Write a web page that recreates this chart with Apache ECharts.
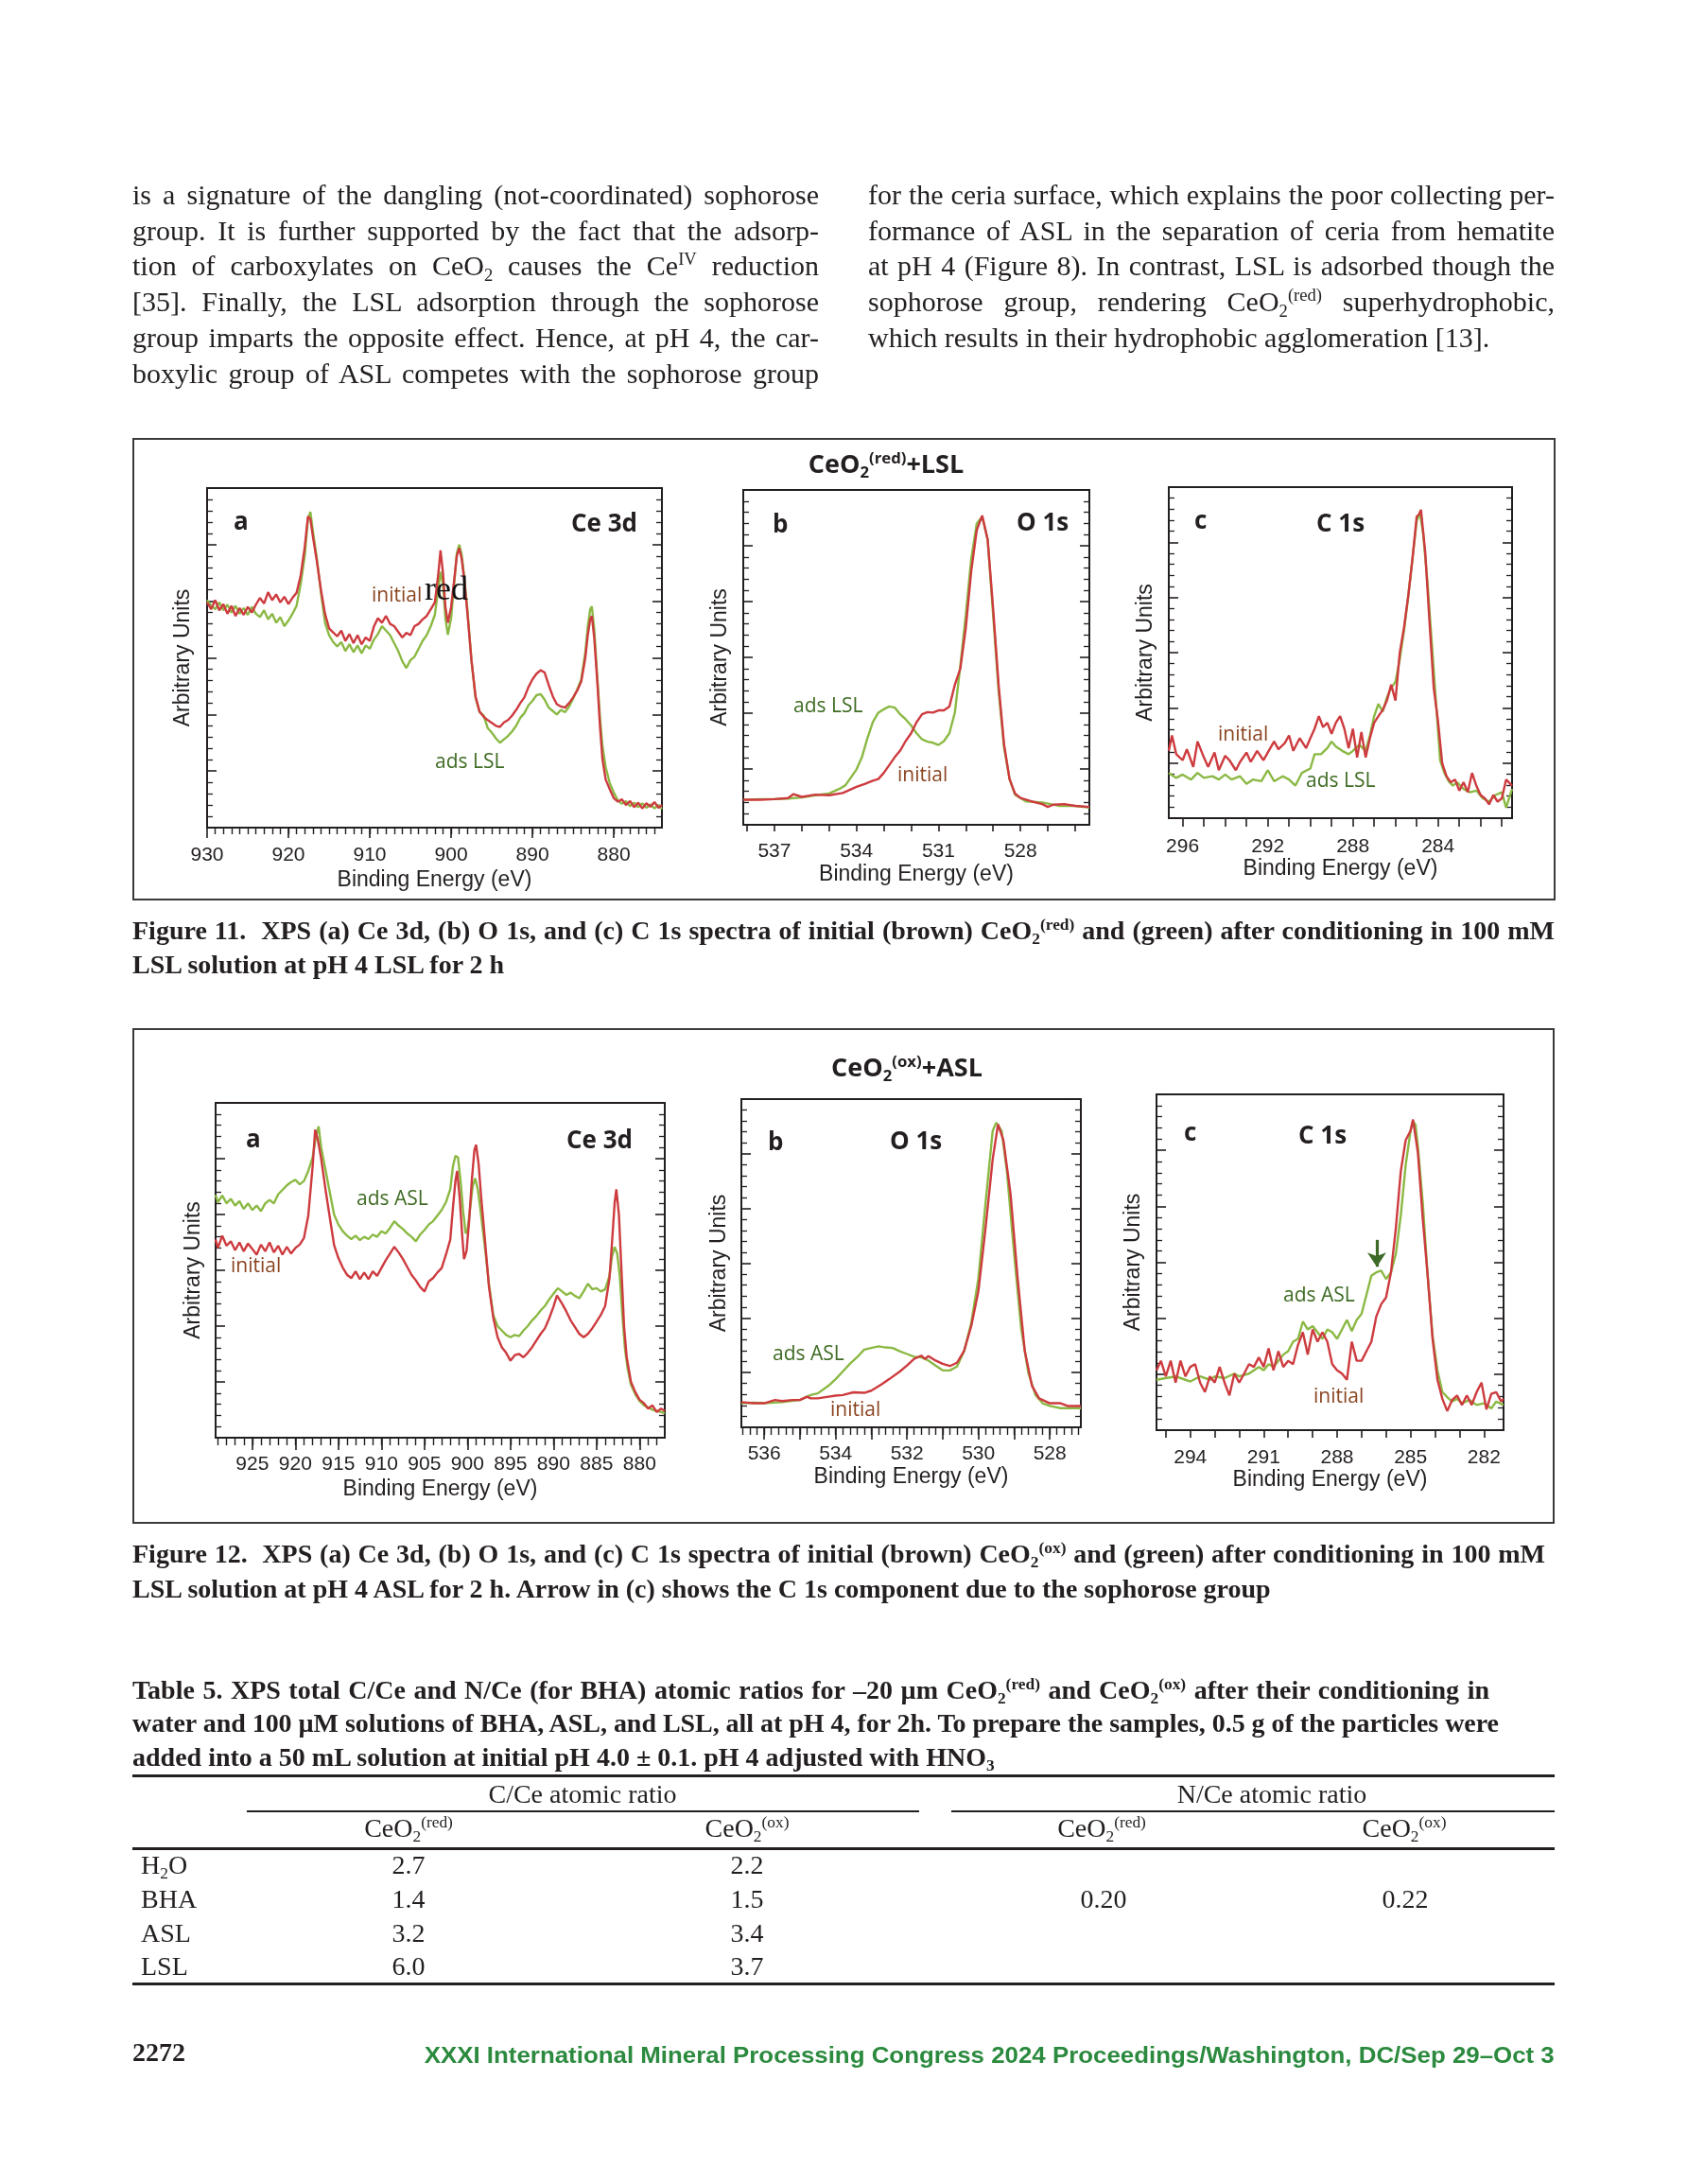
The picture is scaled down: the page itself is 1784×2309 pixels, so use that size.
<!DOCTYPE html>
<html>
<head>
<meta charset="utf-8">
<title>XPS spectra of CeO2 with LSL / ASL</title>
<script src="https://cdn.jsdelivr.net/npm/echarts@6.0.0/dist/echarts.min.js"></script>
<style>
html,body{margin:0;padding:0;background:#fff;}
#page{position:relative;width:1784px;height:2309px;overflow:hidden;background:#fff;color:#231f20;}
#chart{position:absolute;left:0;top:0;width:1784px;height:2309px;z-index:1;}
.abs{position:absolute;white-space:nowrap;z-index:2;}
.body{font-family:"Liberation Serif",serif;font-size:30px;line-height:30px;}
.jl{text-align:justify;text-align-last:justify;}
.cap{font-family:"Liberation Serif",serif;font-weight:bold;font-size:28px;line-height:28px;}
.box{position:absolute;border:2px solid #3a3a3a;z-index:0;box-sizing:border-box;}
.ftitle{font-family:"Open Sans",sans-serif;font-weight:bold;font-size:27px;line-height:27px;transform:translateX(-50%);}
.plab{font-family:"Open Sans",sans-serif;font-weight:bold;font-size:26px;line-height:26px;}
.ann{font-family:"Open Sans",sans-serif;font-size:21px;line-height:21px;}
.brown{color:#8a4420;}
.dgreen{color:#3e6b23;}
.sup{font-size:0.62em;position:relative;top:-0.6em;}
.sub{font-size:0.62em;position:relative;top:0.3em;}
.rule{position:absolute;background:#231f20;z-index:2;}
.tb{font-family:"Liberation Serif",serif;font-size:28px;line-height:28px;}
.ctr{transform:translateX(-50%);}
.foot{font-family:"Liberation Sans",Arial,sans-serif;font-weight:bold;font-size:24px;line-height:24px;color:#2b8a3e;transform-origin:right center;}
</style>
</head>
<body>
<div id="page">
<div id="chart"></div>

<!-- body text -->
<div class="abs body jl" style="left:140px;top:191px;width:726px;">is a signature of the dangling (not-coordinated) sophorose</div>
<div class="abs body jl" style="left:140px;top:229px;width:726px;">group. It is further supported by the fact that the adsorp-</div>
<div class="abs body jl" style="left:140px;top:266px;width:726px;">tion of carboxylates on CeO<span class="sub">2</span> causes the Ce<span class="sup">IV</span> reduction</div>
<div class="abs body jl" style="left:140px;top:304px;width:726px;">[35]. Finally, the LSL adsorption through the sophorose</div>
<div class="abs body jl" style="left:140px;top:342px;width:726px;">group imparts the opposite effect. Hence, at pH 4, the car-</div>
<div class="abs body jl" style="left:140px;top:380px;width:726px;">boxylic group of ASL competes with the sophorose group</div>
<div class="abs body jl" style="left:918px;top:191px;width:726px;">for the ceria surface, which explains the poor collecting per-</div>
<div class="abs body jl" style="left:918px;top:229px;width:726px;">formance of ASL in the separation of ceria from hematite</div>
<div class="abs body jl" style="left:918px;top:266px;width:726px;">at pH 4 (Figure 8). In contrast, LSL is adsorbed though the</div>
<div class="abs body jl" style="left:918px;top:304px;width:726px;">sophorose group, rendering CeO<span class="sub">2</span><span class="sup">(red)</span> superhydrophobic,</div>
<div class="abs body" style="left:918px;top:342px;">which results in their hydrophobic agglomeration [13].</div>

<!-- figure boxes -->
<div class="box" style="left:140px;top:463px;width:1505px;height:489px;"></div>
<div class="box" style="left:140px;top:1087px;width:1504px;height:524px;"></div>

<div class="abs ftitle" style="left:937px;top:476px;">CeO<span class="sub">2</span><span class="sup">(red)</span>+LSL</div>
<div class="abs ftitle" style="left:959px;top:1114px;">CeO<span class="sub">2</span><span class="sup">(ox)</span>+ASL</div>

<!-- Figure 11 annotations -->
<div class="abs plab" style="left:247px;top:537px;">a</div>
<div class="abs plab" style="left:604px;top:539px;">Ce 3d</div>
<div class="abs ann brown" style="left:393px;top:618px;">initial</div>
<div class="abs" style="left:449px;top:604px;font-family:'Liberation Serif',serif;font-size:36px;line-height:36px;color:#111;">red</div>
<div class="abs ann dgreen" style="left:460px;top:794px;">ads LSL</div>

<div class="abs plab" style="left:817px;top:540px;">b</div>
<div class="abs plab" style="left:1075px;top:538px;">O 1s</div>
<div class="abs ann dgreen" style="left:839px;top:735px;">ads LSL</div>
<div class="abs ann brown" style="left:949px;top:808px;">initial</div>

<div class="abs plab" style="left:1263px;top:536px;">c</div>
<div class="abs plab" style="left:1392px;top:539px;">C 1s</div>
<div class="abs ann brown" style="left:1288px;top:765px;">initial</div>
<div class="abs ann dgreen" style="left:1381px;top:814px;">ads LSL</div>

<!-- Figure 12 annotations -->
<div class="abs plab" style="left:260px;top:1190px;">a</div>
<div class="abs plab" style="left:599px;top:1191px;">Ce 3d</div>
<div class="abs ann dgreen" style="left:377px;top:1256px;">ads ASL</div>
<div class="abs ann brown" style="left:244px;top:1327px;">initial</div>

<div class="abs plab" style="left:812px;top:1193px;">b</div>
<div class="abs plab" style="left:941px;top:1192px;">O 1s</div>
<div class="abs ann dgreen" style="left:817px;top:1420px;">ads ASL</div>
<div class="abs ann brown" style="left:878px;top:1479px;">initial</div>

<div class="abs plab" style="left:1252px;top:1183px;">c</div>
<div class="abs plab" style="left:1373px;top:1186px;">C 1s</div>
<div class="abs ann dgreen" style="left:1357px;top:1358px;">ads ASL</div>
<div class="abs ann brown" style="left:1389px;top:1465px;">initial</div>

<!-- captions -->
<div class="abs cap jl" style="left:140px;top:970px;width:1504px;">Figure 11.&nbsp; XPS (a) Ce 3d, (b) O 1s, and (c) C 1s spectra of initial (brown) CeO<span class="sub">2</span><span class="sup">(red)</span> and (green) after conditioning in 100 mM</div>
<div class="abs cap" style="left:140px;top:1006px;">LSL solution at pH 4 LSL for 2 h</div>
<div class="abs cap jl" style="left:140px;top:1629px;width:1494px;">Figure 12.&nbsp; XPS (a) Ce 3d, (b) O 1s, and (c) C 1s spectra of initial (brown) CeO<span class="sub">2</span><span class="sup">(ox)</span> and (green) after conditioning in 100 mM</div>
<div class="abs cap" style="left:140px;top:1666px;">LSL solution at pH 4 ASL for 2 h. Arrow in (c) shows the C 1s component due to the sophorose group</div>

<div class="abs cap jl" style="left:140px;top:1773px;width:1435px;">Table 5. XPS total C/Ce and N/Ce (for BHA) atomic ratios for –20 µm CeO<span class="sub">2</span><span class="sup">(red)</span> and CeO<span class="sub">2</span><span class="sup">(ox)</span> after their conditioning in</div>
<div class="abs cap jl" style="left:140px;top:1808px;width:1445px;">water and 100 µM solutions of BHA, ASL, and LSL, all at pH 4, for 2h. To prepare the samples, 0.5 g of the particles were</div>
<div class="abs cap" style="left:140px;top:1844px;">added into a 50 mL solution at initial pH 4.0 ± 0.1. pH 4 adjusted with HNO<span class="sub">3</span></div>

<!-- table rules -->
<div class="rule" style="left:140px;top:1876px;width:1504px;height:3px;"></div>
<div class="rule" style="left:261px;top:1914px;width:711px;height:2px;"></div>
<div class="rule" style="left:1006px;top:1914px;width:638px;height:2px;"></div>
<div class="rule" style="left:140px;top:1953px;width:1504px;height:2.5px;"></div>
<div class="rule" style="left:140px;top:2096px;width:1504px;height:3px;"></div>
<div id="table"></div>

<!-- footer -->
<div class="abs" style="left:140px;top:2156px;font-family:'Liberation Serif',serif;font-weight:bold;font-size:28px;line-height:28px;">2272</div>
<div id="foot" class="abs foot" style="right:140px;top:2161px;">XXXI International Mineral Processing Congress 2024 Proceedings/Washington, DC/Sep 29–Oct 3</div>
</div>

<script>
// ---------------- DATA ----------------
const fig11a_ticks = [930, 920, 910, 900, 890, 880];
const fig11b_ticks = [537, 534, 531, 528];
const fig11c_ticks = [296, 292, 288, 284];
const fig12a_ticks = [925, 920, 915, 910, 905, 900, 895, 890, 885, 880];
const fig12b_ticks = [536, 534, 532, 530, 528];
const fig12c_ticks = [294, 291, 288, 285, 282];

// Figure 11 (a) Ce 3d  [binding energy eV, intensity a.u.]
const fig11a_initial = [[930,3.98],[929.5,3.86],[929,4.02],[928.5,3.84],[928,3.95],[927.5,3.78],[927,3.92],[926.5,3.74],[926,3.88],[925.5,3.76],[925,3.90],[924.5,3.80],[924,3.94],[923.5,4.06],[923,3.96],[922.5,4.16],[922,4.02],[921.5,4.12],[921,3.98],[920.5,4.08],[920,3.95],[919.5,4.06],[919,4.15],[918.5,4.45],[918,4.95],[917.6,5.50],[917.3,5.45],[917,5.15],[916.5,4.70],[916,4.20],[915.5,3.78],[915,3.52],[914.5,3.45],[914,3.38],[913.5,3.48],[913,3.30],[912.5,3.42],[912,3.26],[911.5,3.40],[911,3.24],[910.5,3.36],[910,3.30],[909.5,3.55],[909,3.70],[908.5,3.62],[908,3.74],[907.5,3.60],[907,3.56],[906.5,3.46],[906,3.36],[905.5,3.44],[905,3.40],[904.5,3.56],[904,3.60],[903.5,3.68],[903,3.74],[902.5,3.86],[902,3.98],[901.6,4.45],[901.3,4.90],[901,4.50],[900.7,3.90],[900.4,3.62],[900,3.90],[899.6,4.40],[899.3,4.80],[899,4.94],[898.7,4.75],[898.4,4.40],[898,3.80],[897.5,2.96],[897,2.32],[896.5,2.05],[896,1.96],[895.5,1.90],[895,1.85],[894.5,1.80],[894,1.78],[893.5,1.86],[893,1.90],[892.5,1.98],[892,2.08],[891.5,2.20],[891,2.30],[890.5,2.48],[890,2.62],[889.5,2.72],[889,2.78],[888.5,2.74],[888,2.52],[887.5,2.32],[887,2.18],[886.5,2.14],[886,2.12],[885.5,2.20],[885,2.30],[884.5,2.42],[884,2.58],[883.5,3.00],[883.2,3.40],[882.9,3.68],[882.7,3.74],[882.4,3.35],[882,2.52],[881.7,1.80],[881.4,1.22],[881,0.85],[880.5,0.68],[880,0.52],[879.5,0.46],[879,0.50],[878.5,0.40],[878,0.47],[877.5,0.36],[877,0.44],[876.5,0.34],[876,0.43],[875.5,0.37],[875,0.45],[874.5,0.35],[874.08,0.40]];
const fig11a_ads = [[930,4.02],[929.5,3.92],[929,3.86],[928.5,3.98],[928,3.84],[927.5,3.94],[927,3.80],[926.5,3.92],[926,3.78],[925.5,3.88],[925,3.76],[924.5,3.90],[924,3.78],[923.5,3.72],[923,3.84],[922.5,3.68],[922,3.78],[921.5,3.62],[921,3.72],[920.5,3.56],[920,3.66],[919.5,3.78],[919,3.92],[918.5,4.30],[918,4.80],[917.6,5.45],[917.3,5.58],[917,5.25],[916.5,4.75],[916,4.15],[915.5,3.62],[915,3.40],[914.5,3.28],[914,3.20],[913.5,3.28],[913,3.12],[912.5,3.24],[912,3.10],[911.5,3.22],[911,3.08],[910.5,3.22],[910,3.16],[909.5,3.32],[909,3.42],[908.5,3.56],[908,3.48],[907.5,3.40],[907,3.26],[906.5,3.12],[906,2.94],[905.5,2.82],[905,2.96],[904.5,3.02],[904,3.16],[903.5,3.30],[903,3.40],[902.5,3.56],[902,3.76],[901.6,4.20],[901.3,4.52],[901,4.30],[900.7,3.70],[900.4,3.41],[900,3.70],[899.6,4.35],[899.3,4.85],[899,5.00],[898.7,4.82],[898.4,4.45],[898,3.85],[897.5,2.96],[897,2.30],[896.5,2.04],[896,1.98],[895.5,1.76],[895,1.68],[894.5,1.58],[894,1.50],[893.5,1.56],[893,1.62],[892.5,1.70],[892,1.80],[891.5,1.94],[891,2.02],[890.5,2.16],[890,2.24],[889.5,2.34],[889,2.36],[888.5,2.26],[888,2.12],[887.5,2.06],[887,2.00],[886.5,2.08],[886,2.04],[885.5,2.14],[885,2.28],[884.5,2.44],[884,2.62],[883.5,3.10],[883.2,3.55],[882.9,3.86],[882.7,3.91],[882.4,3.50],[882,2.60],[881.7,1.95],[881.4,1.45],[881,1.07],[880.5,0.79],[880,0.62],[879.5,0.48],[879,0.42],[878.5,0.47],[878,0.38],[877.5,0.44],[877,0.36],[876.5,0.43],[876,0.35],[875.5,0.41],[875,0.34],[874.5,0.40],[874.08,0.33]];

// Figure 11 (b) O 1s
const fig11b_initial = [[538.14,0.45],[537.5,0.45],[537,0.46],[536.5,0.48],[536.3,0.55],[536,0.50],[535.5,0.54],[535,0.53],[534.5,0.57],[534,0.68],[533.7,0.73],[533.4,0.79],[533.2,0.82],[533,0.93],[532.8,1.07],[532.6,1.21],[532.4,1.33],[532.2,1.50],[532,1.64],[531.8,1.84],[531.6,1.98],[531.4,2.02],[531.2,2.01],[531,2.05],[530.8,2.05],[530.6,2.12],[530.4,2.51],[530.2,2.80],[530,3.53],[529.8,4.55],[529.6,5.28],[529.4,5.54],[529.2,5.11],[529,3.87],[528.8,2.51],[528.6,1.44],[528.4,0.82],[528.2,0.56],[528,0.48],[527.6,0.42],[527.2,0.37],[527,0.32],[526.8,0.36],[526.4,0.37],[526,0.34],[525.48,0.32]];
const fig11b_ads = [[538.14,0.45],[537.5,0.46],[537,0.46],[536.5,0.47],[536,0.49],[535.5,0.53],[535,0.56],[534.6,0.65],[534.4,0.71],[534.2,0.85],[534,0.99],[533.8,1.21],[533.6,1.55],[533.4,1.84],[533.2,2.01],[533,2.07],[532.8,2.12],[532.6,2.10],[532.4,1.98],[532.2,1.89],[532,1.78],[531.8,1.64],[531.6,1.53],[531.4,1.49],[531.2,1.47],[531,1.43],[530.8,1.50],[530.6,1.64],[530.4,2.01],[530.2,2.85],[530,3.76],[529.8,4.77],[529.6,5.40],[529.4,5.52],[529.2,5.11],[529,3.76],[528.8,2.40],[528.6,1.38],[528.4,0.82],[528.2,0.54],[527.8,0.42],[527.2,0.40],[526.6,0.34],[526,0.34],[525.48,0.31]];

// Figure 11 (c) C 1s
const fig11c_initial = [[296.65,1.22],[296.5,1.50],[296.3,1.16],[296,1.05],[295.8,1.25],[295.5,0.93],[295.3,1.39],[295,1.10],[294.8,0.93],[294.5,1.19],[294.3,0.87],[294,1.13],[293.8,1.05],[293.5,0.87],[293.3,1.02],[293,1.19],[292.8,1.02],[292.5,1.22],[292.2,1.05],[292,1.19],[291.7,1.39],[291.5,1.25],[291.2,1.36],[291,1.50],[290.8,1.22],[290.5,1.45],[290.2,1.27],[290,1.45],[289.8,1.62],[289.6,1.85],[289.4,1.65],[289.2,1.73],[289,1.53],[288.8,1.73],[288.6,1.85],[288.4,1.62],[288.2,1.27],[288,1.62],[287.8,1.10],[287.6,1.56],[287.4,1.10],[287.2,1.45],[287,1.73],[286.8,1.85],[286.6,1.96],[286.4,2.13],[286.2,2.42],[286,2.13],[285.8,2.99],[285.6,3.45],[285.4,4.02],[285.2,4.70],[285,5.47],[284.9,5.50],[284.8,5.59],[284.6,4.82],[284.4,3.56],[284.2,2.36],[284,1.76],[283.8,0.99],[283.6,0.76],[283.4,0.65],[283.2,0.70],[283,0.50],[282.8,0.65],[282.6,0.47],[282.4,0.82],[282.2,0.59],[282,0.42],[281.8,0.36],[281.6,0.25],[281.4,0.42],[281.2,0.30],[281,0.36],[280.8,0.70],[280.52,0.59]];
const fig11c_ads = [[296.65,0.82],[296.3,0.73],[296,0.79],[295.6,0.70],[295.3,0.82],[295,0.73],[294.6,0.76],[294.3,0.70],[294,0.79],[293.7,0.70],[293.3,0.76],[293,0.62],[292.7,0.70],[292.3,0.67],[292,0.87],[291.7,0.67],[291.3,0.76],[291,0.70],[290.7,0.59],[290.4,0.82],[290,0.90],[289.8,1.16],[289.5,1.16],[289.2,1.27],[289,1.39],[288.8,1.30],[288.5,1.22],[288.2,1.16],[288,1.22],[287.7,1.33],[287.4,1.22],[287.2,1.50],[287,1.85],[286.8,2.07],[286.6,1.93],[286.4,2.19],[286.2,2.36],[286,2.47],[285.8,2.87],[285.6,3.39],[285.4,4.02],[285.2,4.70],[285,5.39],[284.85,5.53],[284.7,5.16],[284.5,4.30],[284.3,3.22],[284.1,2.13],[283.9,1.05],[283.7,0.82],[283.5,0.67],[283.3,0.59],[283.1,0.65],[282.8,0.53],[282.5,0.47],[282.2,0.50],[281.9,0.36],[281.6,0.30],[281.3,0.42],[281,0.47],[280.8,0.19],[280.52,0.53]];

// Figure 12 (a) Ce 3d
const fig12a_initial = [[929.27,3.55],[929,3.40],[928.5,3.62],[928,3.44],[927.5,3.52],[927,3.36],[926.5,3.50],[926,3.34],[925.5,3.48],[925,3.38],[924.5,3.28],[924,3.46],[923.5,3.34],[923,3.50],[922.5,3.32],[922,3.44],[921.5,3.28],[921,3.42],[920.5,3.30],[920,3.40],[919.5,3.46],[919,3.58],[918.5,3.98],[918,4.85],[917.7,5.52],[917.4,5.35],[917,5.00],[916.5,4.45],[916,3.95],[915.5,3.45],[915,3.22],[914.5,3.05],[914,2.92],[913.5,2.86],[913,2.98],[912.5,2.84],[912,2.96],[911.5,2.84],[911,2.98],[910.5,2.90],[910,3.04],[909.5,3.18],[909,3.30],[908.5,3.42],[908,3.32],[907.5,3.20],[907,3.06],[906.5,2.92],[906,2.82],[905.5,2.70],[905,2.62],[904.5,2.80],[904,2.86],[903.5,2.96],[903,3.04],[902.5,3.28],[902,3.55],[901.7,4.10],[901.4,4.60],[901.2,4.78],[900.9,4.30],[900.6,3.60],[900.4,3.20],[900.1,3.35],[899.8,3.90],[899.5,4.60],[899.2,5.15],[899,5.25],[898.7,4.90],[898.4,4.30],[898,3.60],[897.5,2.70],[897,2.15],[896.5,1.80],[896,1.62],[895.5,1.52],[895,1.38],[894.5,1.48],[894,1.50],[893.5,1.44],[893,1.52],[892.5,1.62],[892,1.74],[891.5,1.86],[891,1.96],[890.5,2.14],[890,2.35],[889.6,2.55],[889,2.40],[888.5,2.26],[888,2.10],[887.5,1.98],[887,1.86],[886.5,1.80],[886,1.86],[885.5,1.96],[885,2.08],[884.5,2.20],[884,2.36],[883.5,2.85],[883.2,3.50],[882.9,4.20],[882.7,4.45],[882.4,4.00],[882.1,3.00],[881.8,2.00],[881.5,1.45],[881,1.00],[880.5,0.82],[880,0.68],[879.5,0.62],[879,0.52],[878.5,0.58],[878,0.46],[877.5,0.52],[877.07,0.48]];
const fig12a_ads = [[929.27,4.35],[929,4.22],[928.5,4.34],[928,4.20],[927.5,4.28],[927,4.16],[926.5,4.24],[926,4.10],[925.5,4.20],[925,4.08],[924.5,4.16],[924,4.06],[923.5,4.20],[923,4.26],[922.5,4.20],[922,4.36],[921.5,4.44],[921,4.52],[920.5,4.58],[920,4.62],[919.5,4.54],[919,4.60],[918.5,4.78],[918,5.02],[917.6,5.40],[917.3,5.58],[917,5.20],[916.5,4.80],[916,4.40],[915.5,4.00],[915,3.82],[914.5,3.70],[914,3.62],[913.5,3.56],[913,3.62],[912.5,3.54],[912,3.60],[911.5,3.56],[911,3.64],[910.5,3.60],[910,3.70],[909.5,3.66],[909,3.76],[908.5,3.88],[908,3.80],[907.5,3.74],[907,3.66],[906.5,3.60],[906,3.52],[905.5,3.64],[905,3.72],[904.5,3.82],[904,3.88],[903.5,3.98],[903,4.08],[902.5,4.22],[902,4.45],[901.7,4.85],[901.4,5.05],[901.1,5.02],[900.8,4.60],[900.5,4.05],[900.2,3.66],[900,3.70],[899.7,4.10],[899.4,4.50],[899.1,4.65],[898.8,4.45],[898.5,4.10],[898.2,3.70],[898,3.45],[897.5,2.75],[897,2.20],[896.5,2.00],[896,1.92],[895.5,1.84],[895,1.80],[894.5,1.84],[894,1.82],[893.5,1.92],[893,2.00],[892.5,2.10],[892,2.18],[891.5,2.28],[891,2.36],[890.5,2.48],[890,2.58],[889.5,2.68],[889,2.62],[888.5,2.56],[888,2.60],[887.5,2.54],[887,2.50],[886.5,2.62],[886,2.76],[885.5,2.66],[885,2.68],[884.5,2.62],[884,2.66],[883.5,2.90],[883.2,3.25],[882.9,3.42],[882.6,3.30],[882.3,2.90],[882,2.20],[881.7,1.60],[881.4,1.25],[881,0.95],[880.5,0.78],[880,0.66],[879.5,0.58],[879,0.54],[878.5,0.50],[878,0.48],[877.5,0.46],[877.07,0.44]];

// Figure 12 (b) O 1s
const fig12b_initial = [[536.64,0.46],[536.3,0.44],[536,0.44],[535.7,0.50],[535.5,0.48],[535.2,0.50],[535,0.50],[534.8,0.56],[534.7,0.53],[534.5,0.53],[534.2,0.56],[534,0.58],[533.8,0.59],[533.5,0.64],[533.2,0.63],[533,0.67],[532.7,0.79],[532.5,0.88],[532.2,1.02],[532,1.13],[531.8,1.25],[531.6,1.31],[531.5,1.25],[531.4,1.30],[531.2,1.22],[531,1.16],[530.8,1.12],[530.6,1.18],[530.4,1.40],[530.2,1.85],[530,2.49],[529.8,3.64],[529.6,4.90],[529.45,5.54],[529.3,5.25],[529.1,4.27],[528.9,2.72],[528.7,1.39],[528.5,0.76],[528.3,0.53],[528,0.44],[527.7,0.44],[527.5,0.39],[527.13,0.39]];
const fig12b_ads = [[536.64,0.44],[536.3,0.45],[536,0.44],[535.5,0.46],[535,0.50],[534.7,0.59],[534.5,0.62],[534.2,0.76],[534,0.88],[533.8,1.02],[533.6,1.16],[533.4,1.28],[533.2,1.42],[533,1.45],[532.8,1.48],[532.6,1.46],[532.4,1.45],[532.2,1.39],[532,1.34],[531.8,1.29],[531.6,1.28],[531.4,1.22],[531.2,1.13],[531,1.04],[530.8,1.04],[530.6,1.11],[530.4,1.39],[530.2,1.91],[530,2.72],[529.8,4.10],[529.6,5.42],[529.5,5.57],[529.35,5.42],[529.2,4.67],[529,3.18],[528.8,1.80],[528.6,0.99],[528.4,0.59],[528.2,0.44],[528,0.39],[527.7,0.35],[527.13,0.35]];

// Figure 12 (c) C 1s
const fig12c_initial = [[295.38,1.07],[295.2,1.24],[295,0.96],[294.8,1.24],[294.6,0.85],[294.4,1.24],[294.2,0.96],[294,1.13],[293.8,1.18],[293.6,0.85],[293.4,0.68],[293.2,0.96],[293,0.85],[292.8,1.13],[292.6,0.85],[292.4,0.62],[292.2,1.01],[292,0.85],[291.8,1.01],[291.6,1.18],[291.4,1.13],[291.2,1.30],[291,1.13],[290.8,1.46],[290.6,1.07],[290.4,1.41],[290.2,1.13],[290,1.24],[289.8,1.18],[289.6,1.52],[289.4,1.75],[289.2,1.35],[289,1.80],[288.8,1.58],[288.6,1.75],[288.4,1.58],[288.2,1.18],[288,1.07],[287.8,1.01],[287.6,0.90],[287.4,1.58],[287.2,1.24],[287,1.24],[286.8,1.41],[286.6,1.58],[286.4,2.03],[286.2,2.25],[286,2.37],[285.8,2.82],[285.6,3.61],[285.4,4.62],[285.2,5.18],[285,5.35],[284.9,5.55],[284.7,4.96],[284.5,3.77],[284.3,2.76],[284.1,1.63],[283.9,0.90],[283.7,0.56],[283.5,0.34],[283.3,0.54],[283.1,0.62],[282.9,0.45],[282.7,0.62],[282.5,0.45],[282.3,0.68],[282.1,0.85],[281.9,0.37],[281.7,0.65],[281.5,0.68],[281.3,0.51],[281.2,0.56]];
const fig12c_ads = [[295.38,0.90],[295,0.93],[294.6,0.96],[294.2,0.90],[294,0.87],[293.6,0.96],[293.2,0.90],[293,0.96],[292.6,0.93],[292.2,1.01],[292,0.96],[291.6,1.01],[291.2,1.13],[291,1.07],[290.8,1.18],[290.6,1.13],[290.4,1.24],[290.2,1.35],[290,1.41],[289.8,1.58],[289.6,1.63],[289.4,1.94],[289.2,1.80],[289,1.86],[288.8,1.75],[288.6,1.63],[288.4,1.80],[288.2,1.75],[288,1.63],[287.8,1.80],[287.6,1.97],[287.4,1.77],[287.2,1.97],[287,2.08],[286.8,2.42],[286.6,2.76],[286.4,2.82],[286.2,2.85],[286,2.70],[285.8,2.82],[285.6,3.15],[285.4,3.83],[285.2,4.73],[285,5.35],[284.9,5.52],[284.8,5.46],[284.7,5.07],[284.5,4.06],[284.3,2.76],[284.1,1.69],[283.9,1.07],[283.7,0.68],[283.5,0.59],[283.3,0.51],[283.1,0.56],[282.9,0.48],[282.6,0.54],[282.3,0.45],[282,0.48],[281.7,0.39],[281.5,0.51],[281.2,0.45]];
const fig12c_arrow = [[286.38, 3.40], [286.38, 2.92]];

// Table 5
const tableRowLabels = ['H<span class="sub">2</span>O', 'BHA', 'ASL', 'LSL'];
const cce_red = ['2.7', '1.4', '3.2', '6.0'];
const cce_ox  = ['2.2', '1.5', '3.4', '3.7'];
const nce_red = ['', '0.20', '', ''];
const nce_ox  = ['', '0.22', '', ''];

// ---------------- STYLE / LAYOUT ----------------
const C_RED = '#cd3b3f', C_GREEN = '#8bb944', C_INK = '#231f20', C_ARROW = '#3d6a27';
const AX_FONT = '"Liberation Sans", Arial, sans-serif';
function steps(a, b, s) { const out = []; for (let v = a; v <= b + 1e-9; v += s) out.push(Math.round(v * 100) / 100); return out; }

const panels = [
  {grid:[219,516,481,359], xMin:874.08, xMax:930, labels:fig11a_ticks, major:fig11a_ticks, minor:steps(875,929,1), majorLen:11, minorLen:7, lm:19, ng:44, yng:14, ads:fig11a_ads, ini:fig11a_initial},
  {grid:[786,518,366,354], xMin:525.48, xMax:538.14, labels:fig11b_ticks, major:steps(526,538,1), minor:null, majorLen:7, lm:18, ng:41, yng:13, ads:fig11b_ads, ini:fig11b_initial},
  {grid:[1236,515,363,350], xMin:280.52, xMax:296.65, labels:fig11c_ticks, major:steps(281,296,1), minor:null, majorLen:9, lm:20, ng:42, yng:13, ads:fig11c_ads, ini:fig11c_initial},
  {grid:[228,1166,475,354], xMin:877.07, xMax:929.27, labels:fig12a_ticks, major:fig12a_ticks, minor:steps(878,929,1), majorLen:13, minorLen:8, lm:18, ng:43, yng:12, ads:fig12a_ads, ini:fig12a_initial},
  {grid:[784,1162,359,347], xMin:527.13, xMax:536.64, labels:fig12b_ticks, major:steps(528,536,1), minor:steps(527.2,536.6,0.2), majorLen:13, minorLen:8, lm:18, ng:41, yng:12, ads:fig12b_ads, ini:fig12b_initial},
  {grid:[1223,1157,367,355], xMin:281.2, xMax:295.38, labels:fig12c_ticks, major:steps(282,295,1), minor:null, majorLen:8, lm:19, ng:41, yng:13, ads:fig12c_ads, ini:fig12c_initial, arrow:fig12c_arrow}
];

const grids = [], xAxes = [], yAxes = [], series = [];
panels.forEach((p, i) => {
  grids.push({left:p.grid[0], top:p.grid[1], width:p.grid[2], height:p.grid[3], show:true, borderColor:C_INK, borderWidth:2, backgroundColor:'transparent', containLabel:false, outerBoundsMode:'none'});
  const xa = xAxes.length;
  xAxes.push({gridIndex:i, type:'value', inverse:true, min:p.xMin, max:p.xMax, position:'bottom',
    axisLine:{show:false, onZero:false}, splitLine:{show:false},
    axisTick:{show:true, customValues:p.major, length:p.majorLen, lineStyle:{color:C_INK, width:1.6}},
    axisLabel:{show:true, customValues:p.labels, margin:p.lm, fontSize:21, color:C_INK, fontFamily:AX_FONT},
    name:'Binding Energy (eV)', nameLocation:'middle', nameGap:p.ng, nameMoveOverlap:false,
    nameTextStyle:{fontSize:23, color:C_INK, fontFamily:AX_FONT}});
  if (p.minor) {
    xAxes.push({gridIndex:i, type:'value', inverse:true, min:p.xMin, max:p.xMax, position:'bottom',
      axisLine:{show:false, onZero:false}, splitLine:{show:false},
      axisTick:{show:true, customValues:p.minor, length:p.minorLen, lineStyle:{color:C_INK, width:1.4}},
      axisLabel:{show:false}});
  }
  const ya = yAxes.length;
  ['left','right'].forEach(pos => {
    yAxes.push({gridIndex:i, type:'value', min:0, max:6, interval:1, position:pos,
      axisLine:{show:false, onZero:false}, splitLine:{show:false}, minorSplitLine:{show:false},
      axisLabel:{show:false},
      axisTick:{show:true, inside:true, length:10, lineStyle:{color:C_INK, width:1.6}},
      minorTick:{show:true, splitNumber:5, length:6, lineStyle:{color:C_INK, width:1.3}},
      name: pos === 'left' ? 'Arbitrary Units' : '', nameLocation:'middle', nameGap:p.yng, nameMoveOverlap:false,
      nameTextStyle:{fontSize:23, color:C_INK, fontFamily:AX_FONT}});
  });
  const g = {type:'line', xAxisIndex:xa, yAxisIndex:ya, data:p.ads, showSymbol:false, symbol:'none', silent:true,
    lineStyle:{color:C_GREEN, width:2.4}, z:2, animation:false};
  if (p.arrow) {
    g.markLine = {silent:true, symbol:['none','arrow'], symbolSize:15, animation:false,
      lineStyle:{color:C_ARROW, width:3.2, type:'solid'}, label:{show:false}, emphasis:{disabled:true},
      data:[[{coord:p.arrow[0]}, {coord:p.arrow[1]}]]};
  }
  series.push(g);
  series.push({type:'line', xAxisIndex:xa, yAxisIndex:ya, data:p.ini, showSymbol:false, symbol:'none', silent:true,
    lineStyle:{color:C_RED, width:2.4}, z:3, animation:false});
});

const chart = echarts.init(document.getElementById('chart'), null, {renderer:'canvas'});
chart.setOption({animation:false, backgroundColor:'transparent', grid:grids, xAxis:xAxes, yAxis:yAxes, series:series});

// ---------------- TABLE ----------------
(function buildTable(){
  const host = document.getElementById('table');
  let html = '';
  const put = (cls, style, txt) => { html += '<div class="abs tb ' + cls + '" style="' + style + '">' + txt + '</div>'; };
  put('ctr', 'left:616px;top:1883px;', 'C/Ce atomic ratio');
  put('ctr', 'left:1345px;top:1883px;', 'N/Ce atomic ratio');
  const heads = [['(red)',432],['(ox)',790],['(red)',1165],['(ox)',1485]];
  heads.forEach(h => put('ctr', 'left:' + h[1] + 'px;top:1919px;', 'CeO<span class="sub">2</span><span class="sup">' + h[0] + '</span>'));
  const rowTops = [1958, 1994, 2030, 2065];
  tableRowLabels.forEach((lab, r) => {
    put('', 'left:149px;top:' + rowTops[r] + 'px;', lab);
    put('ctr', 'left:432px;top:' + rowTops[r] + 'px;', cce_red[r]);
    put('ctr', 'left:790px;top:' + rowTops[r] + 'px;', cce_ox[r]);
    if (nce_red[r]) put('ctr', 'left:1167px;top:' + rowTops[r] + 'px;', nce_red[r]);
    if (nce_ox[r]) put('ctr', 'left:1486px;top:' + rowTops[r] + 'px;', nce_ox[r]);
  });
  host.innerHTML = html;
})();

// ---------------- text fitting ----------------
function fitLines(){
  document.querySelectorAll('.jl').forEach(el => {
    const target = el.clientWidth;
    const r = document.createRange(); r.selectNodeContents(el);
    const w = r.getBoundingClientRect().width;
    if (w > target + 0.5) {
      const n = el.textContent.length;
      el.style.letterSpacing = (-(w - target) / n).toFixed(3) + 'px';
    }
  });
  const f = document.getElementById('foot');
  const fw = f.getBoundingClientRect().width;
  f.style.transform = 'scaleX(' + (1195 / fw).toFixed(4) + ')';
}
if (document.fonts && document.fonts.ready) { document.fonts.ready.then(fitLines); } else { fitLines(); }
</script>
</body>
</html>
